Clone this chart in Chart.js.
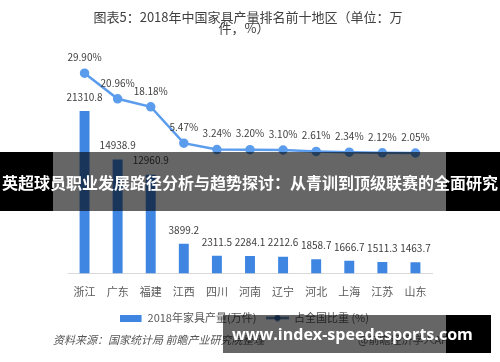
<!DOCTYPE html>
<html>
<head>
<meta charset="utf-8">
<script src="https://cdn.jsdelivr.net/npm/chart.js@4"></script>
<style>
  body { margin: 0; background: #fff; }
  #wrap { position: relative; width: 500px; height: 362px; overflow: hidden; }
  .band { position: absolute; background: transparent; }
  .band .mid { position: absolute; top: 0; bottom: 0; background: rgba(0,0,0,0.6); }
  .band span { position: absolute; top: 0; bottom: 0; white-space: nowrap; color: #fff; font-weight: bold; display: flex; align-items: center; }
</style>
</head>
<body>
<div id="wrap">
  <canvas id="furnChart" width="500" height="362"></canvas>
  <div class="band" style="top:152px;left:0;width:500px;height:59px;">
    <div class="mid" style="left:0;width:53px;background:#000;"></div>
    <div class="mid" style="left:53px;width:393px;"></div>
    <div class="mid" style="left:446px;width:54px;background:#000;"></div>
    <span style="left:0;width:500px;justify-content:center;font:bold 16px 'Noto Sans CJK SC';">英超球员职业发展路径分析与趋势探讨：从青训到顶级联赛的全面研究</span>
  </div>
  <div class="band" style="top:315px;left:223px;width:268px;height:38px;">
    <div class="mid" style="left:0;width:223px;"></div>
    <div class="mid" style="left:223px;width:45px;background:#000;"></div>
    <span id="site" style="left:9px;font:bold 17px 'Open Sans';">www.index-speedesports.com</span>
  </div>
</div>
<script>
const regions = ['浙江', '广东', '福建', '江西', '四川', '河南', '辽宁', '河北', '上海', '江苏', '山东'];
const output = [21310.8, 14938.9, 12960.9, 3899.2, 2311.5, 2284.1, 2212.6, 1858.7, 1666.7, 1511.3, 1463.7];
const share = [29.90, 20.96, 18.18, 5.47, 3.24, 3.20, 3.10, 2.61, 2.34, 2.12, 2.05];

const barColor = '#3f86e2';
const lineColor = '#5b9cec';
const cjk = '"Noto Sans CJK SC", sans-serif';

// fit the site text to its width in the picture
const site = document.getElementById('site');
site.style.fontSize = (17 * 241 / site.getBoundingClientRect().width) + 'px';

// small canvases used as legend symbols
function legendIcon(kind) {
  const cv = document.createElement('canvas');
  cv.width = 23; cv.height = 7;
  const g = cv.getContext('2d');
  if (kind === 'bar') {
    g.fillStyle = barColor;
    g.fillRect(0, 0, 22, 7);
  } else {
    g.strokeStyle = '#2f5f9e';
    g.lineWidth = 2;
    g.beginPath(); g.moveTo(0, 3.5); g.lineTo(23, 3.5); g.stroke();
    g.fillStyle = '#2f5f9e';
    g.beginPath(); g.arc(11.5, 3.5, 3, 0, Math.PI * 2); g.fill();
  }
  return cv;
}

const textBits = {
  id: 'textBits',
  afterDatasetsDraw(chart) {
    const c = chart.ctx;
    c.save();
    c.font = '10px ' + cjk;
    c.fillStyle = '#404040';
    c.textAlign = 'center';
    c.textBaseline = 'middle';
    chart.getDatasetMeta(0).data.forEach((el, i) => {
      c.fillText(output[i].toFixed(1), el.x, el.y - 14);
    });
    chart.getDatasetMeta(1).data.forEach((el, i) => {
      c.fillText(share[i].toFixed(2) + '%', el.x, el.y - 16);
    });
    c.restore();
  },
  afterDraw(chart) {
    const c = chart.ctx;
    c.save();
    c.textBaseline = 'middle';
    c.textAlign = 'center';
    c.fillStyle = '#404040';
    c.font = '13px ' + cjk;
    c.fillText('图表5：2018年中国家具产量排名前十地区（单位：万', 248, 17);
    c.fillText('件，%）', 244, 28);
    c.textAlign = 'left';
    c.font = 'italic 11px ' + cjk;
    c.fillStyle = '#555';
    c.fillText('资料来源：国家统计局 前瞻产业研究院整理', 53, 340);
    c.font = '11px ' + cjk;
    c.fillStyle = '#666';
    c.fillText('@前瞻经济学人APP', 358, 340);
    c.restore();
  }
};

const ctx = document.getElementById('furnChart').getContext('2d');

const furnChart = new Chart(ctx, {
  type: 'bar',
  data: {
    labels: regions,
    datasets: [
      {
        label: '2018年家具产量(万件)',
        data: output,
        backgroundColor: barColor,
        barPercentage: 0.3,
        categoryPercentage: 1,
        yAxisID: 'y',
        order: 2
      },
      {
        type: 'line',
        label: '占全国比重 (%)',
        data: share,
        borderColor: lineColor,
        backgroundColor: lineColor,
        borderWidth: 2.5,
        pointRadius: 3.5,
        pointBackgroundColor: lineColor,
        tension: 0,
        yAxisID: 'y1',
        order: 1
      }
    ]
  },
  options: {
    responsive: false,
    animation: false,
    layout: { padding: { left: 68, right: 68, top: 60, bottom: 28.5 } },
    plugins: {
      title: { display: false },
      legend: {
        position: 'bottom',
        labels: {
          color: '#595959',
          font: { size: 11, family: cjk },
          usePointStyle: true,
          pointStyleWidth: 22,
          boxHeight: 7,
          padding: 10,
          generateLabels() {
            return [
              { text: '2018年家具产量(万件)', pointStyle: legendIcon('bar'), fontColor: '#595959', lineWidth: 0, datasetIndex: 0 },
              { text: '占全国比重 (%)\u3000', pointStyle: legendIcon('line'), fontColor: '#595959', lineWidth: 0, datasetIndex: 1 }
            ];
          }
        }
      },
      tooltip: { enabled: false }
    },
    scales: {
      x: {
        grid: { display: false },
        border: { color: '#d9d9d9' },
        ticks: { color: '#595959', font: { size: 11, family: cjk }, padding: 3.9 }
      },
      y: { display: false, min: 0, max: 28000 },
      y1: { display: false, min: -40, max: 34.5, position: 'right' }
    }
  },
  plugins: [textBits]
});
</script>
</body>
</html>
